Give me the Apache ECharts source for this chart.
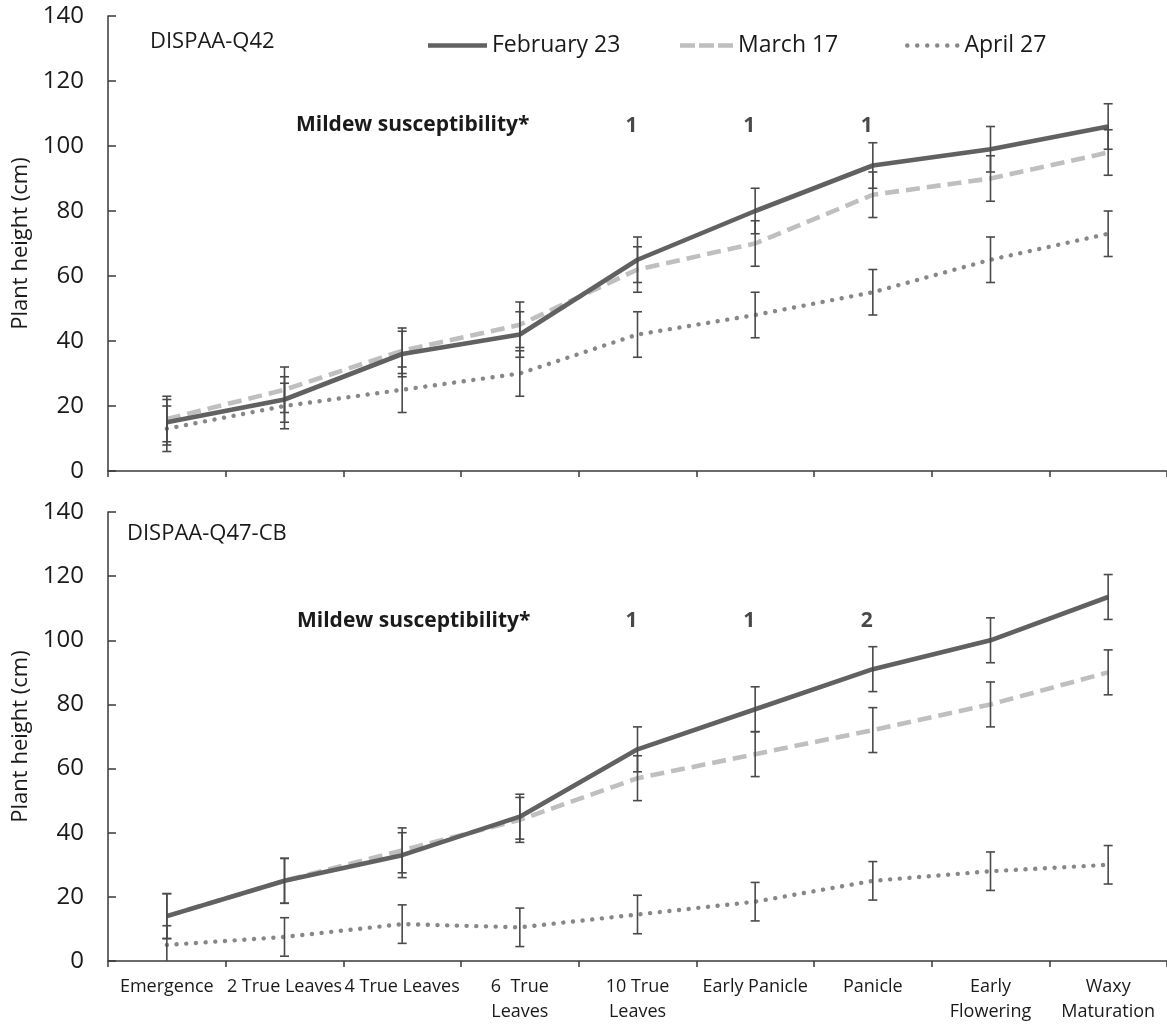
<!DOCTYPE html>
<html>
<head>
<meta charset="utf-8">
<script src="https://cdn.jsdelivr.net/npm/echarts@6/dist/echarts.min.js"></script>
<style>
  html, body { margin: 0; padding: 0; background: #fff; }
  #chart { width: 1167px; height: 1028px; }
</style>
</head>
<body>
<div id="chart"></div>
<script>
// Growth stages shown along the shared x axis
const stages = ['Emergence', '2 True Leaves', '4 True Leaves', '6  True\nLeaves', '10 True\nLeaves',
  'Early Panicle', 'Panicle', 'Early\nFlowering', 'Waxy\nMaturation'];
const yTicks = [0, 20, 40, 60, 80, 100, 120, 140];
const sowingDates = ['February 23', 'March 17', 'April 27'];

// DISPAA-Q42: mean plant height (cm) and error (cm) per sowing date
const q42Feb = [15, 22, 36, 42, 65, 80, 94, 99, 106];
const q42Mar = [16, 25, 37, 45, 62, 70, 85, 90, 98];
const q42Apr = [13, 20, 25, 30, 42, 48, 55, 65, 73];
const q42FebErr = [7, 7, 7, 7, 7, 7, 7, 7, 7];
const q42MarErr = [7, 7, 7, 7, 7, 7, 7, 7, 7];
const q42AprErr = [7, 7, 7, 7, 7, 7, 7, 7, 7];

// DISPAA-Q47-CB
const q47Feb = [14, 25, 33, 45, 66, 78.5, 91, 100, 113.5];
const q47Mar = [14, 25, 34.5, 44, 57, 64.5, 72, 80, 90];
const q47Apr = [5, 7.5, 11.5, 10.5, 14.5, 18.5, 25, 28, 30];
const q47FebErr = [7, 7, 7, 7, 7, 7, 7, 7, 7];
const q47MarErr = [7, 7, 7, 7, 7, 7, 7, 7, 7];
const q47AprErr = [6, 6, 6, 6, 6, 6, 6, 6, 6];

// Mildew susceptibility scores
const mildewStages = ['10 True\nLeaves', 'Early Panicle', 'Panicle'];
const mildewQ42 = ['1', '1', '1'];
const mildewQ47 = ['1', '1', '2'];
const mildewRow = 106;

const FONT = '"Open Sans", "Noto Sans", sans-serif';
const TEXT = '#1a1a1a';
const AXIS = '#3a3a3a';

const lineStyles = [
  { color: '#616161', width: 4.6, type: 'solid' },
  { color: '#bfbfbf', width: 4.6, type: [14, 7] },
  { color: '#878787', width: 4.4, type: [0.1, 9.6], cap: 'round' }
];

// Legend glyphs: solid bar, three dashes, six dots
function dotsPath() {
  let p = 'path://';
  for (let i = 0; i < 6; i++) {
    p += 'M' + (i * 10) + ',2.25 a2.25,2.25 0 1,0 4.5,0 a2.25,2.25 0 1,0 -4.5,0 z ';
  }
  return p;
}
const legendIcons = [
  'path://M0,0h59v4.6h-59z',
  'path://M0,0h15v4.6h-15z M19,0h15v4.6h-15z M38,0h15v4.6h-15z',
  dotsPath()
];
const legendIconWidths = [59, 53, 54.5];

function lineSeries(name, data, gridIdx, styleIdx) {
  return {
    name: name, type: 'line', data: data,
    xAxisIndex: gridIdx, yAxisIndex: gridIdx,
    showSymbol: false, symbol: 'none', smooth: false,
    lineStyle: Object.assign({}, lineStyles[styleIdx]),
    itemStyle: { color: lineStyles[styleIdx].color },
    z: 2 + (2 - styleIdx), silent: true
  };
}

function errorSeries(means, errs, gridIdx) {
  return {
    type: 'custom', xAxisIndex: gridIdx, yAxisIndex: gridIdx, z: 10, silent: true,
    clip: true,
    data: means.map((m, i) => [i, m - errs[i], m + errs[i]]),
    encode: { x: 0, y: [1, 2] },
    renderItem: function (params, api) {
      const idx = api.value(0);
      const lo = api.coord([idx, api.value(1)]);
      const hi = api.coord([idx, api.value(2)]);
      const hw = 4.5;
      const st = { stroke: '#4a4a4a', lineWidth: 1.6 };
      return {
        type: 'group',
        children: [
          { type: 'line', shape: { x1: lo[0], y1: lo[1], x2: hi[0], y2: hi[1] }, style: st },
          { type: 'line', shape: { x1: hi[0] - hw, y1: hi[1], x2: hi[0] + hw, y2: hi[1] }, style: st },
          { type: 'line', shape: { x1: lo[0] - hw, y1: lo[1], x2: lo[0] + hw, y2: lo[1] }, style: st }
        ]
      };
    }
  };
}

function mildewSeries(scores, gridIdx) {
  return {
    type: 'scatter', xAxisIndex: gridIdx, yAxisIndex: gridIdx, silent: true,
    symbolSize: 1, itemStyle: { color: 'rgba(0,0,0,0)' },
    data: mildewStages.map((s, i) => ({ value: [s, mildewRow], label: { formatter: scores[i] } })),
    label: {
      show: true, position: 'inside', offset: [-6, 0],
      fontFamily: FONT, fontSize: 21, fontWeight: 'bold', color: TEXT
    }
  };
}

function xAxisFor(gridIdx, showLabels) {
  return {
    type: 'category', gridIndex: gridIdx, data: stages, boundaryGap: true,
    axisLine: { lineStyle: { color: AXIS, width: 1.5 } },
    axisTick: { show: true, inside: false, length: 6, lineStyle: { color: AXIS, width: 1.5 } },
    axisLabel: {
      show: showLabels, interval: 0, hideOverlap: false, margin: 13,
      fontFamily: FONT, fontSize: 18, lineHeight: 25, color: TEXT, verticalAlign: 'top'
    },
    splitLine: { show: false }
  };
}

function yAxisFor(gridIdx) {
  return {
    type: 'value', gridIndex: gridIdx, min: yTicks[0], max: yTicks[yTicks.length - 1], interval: 20,
    name: 'Plant height (cm)', nameLocation: 'middle', nameGap: 70, nameRotate: 90,
    nameTextStyle: { fontFamily: FONT, fontSize: 22, color: TEXT },
    axisLine: { show: true, lineStyle: { color: AXIS, width: 1.5 } },
    axisTick: { show: true, inside: true, length: 8, lineStyle: { color: AXIS, width: 1.5 } },
    axisLabel: { margin: 24, fontFamily: FONT, fontSize: 24, color: TEXT },
    splitLine: { show: false }
  };
}

function legendFor(idx, left) {
  return {
    left: left, top: 34, padding: 0,
    data: [{ name: sowingDates[idx], icon: legendIcons[idx] }],
    itemWidth: legendIconWidths[idx], itemHeight: 4.6,
    textStyle: { fontFamily: FONT, fontSize: 23, color: TEXT },
    selectedMode: false
  };
}

const option = {
  backgroundColor: '#ffffff',
  animation: false,
  textStyle: { fontFamily: FONT },
  legend: [legendFor(0, 428), legendFor(1, 680), legendFor(2, 905)],
  grid: [
    { left: 108, right: 0, top: 16, height: 455 },
    { left: 108, right: 0, top: 512, height: 449 }
  ],
  xAxis: [xAxisFor(0, false), xAxisFor(1, true)],
  yAxis: [yAxisFor(0), yAxisFor(1)],
  graphic: [
    { type: 'text', left: 150, top: 31, style: { text: 'DISPAA-Q42', font: '22px ' + FONT, fill: TEXT } },
    { type: 'text', left: 127, top: 523, style: { text: 'DISPAA-Q47-CB', font: '22px ' + FONT, fill: TEXT } },
    { type: 'text', left: 296, top: 115, style: { text: 'Mildew susceptibility*', font: 'bold 21px ' + FONT, fill: TEXT } },
    { type: 'text', left: 297, top: 611, style: { text: 'Mildew susceptibility*', font: 'bold 21px ' + FONT, fill: TEXT } }
  ],
  series: [
    lineSeries(sowingDates[0], q42Feb, 0, 0),
    lineSeries(sowingDates[1], q42Mar, 0, 1),
    lineSeries(sowingDates[2], q42Apr, 0, 2),
    errorSeries(q42Feb, q42FebErr, 0),
    errorSeries(q42Mar, q42MarErr, 0),
    errorSeries(q42Apr, q42AprErr, 0),
    mildewSeries(mildewQ42, 0),

    lineSeries(sowingDates[0], q47Feb, 1, 0),
    lineSeries(sowingDates[1], q47Mar, 1, 1),
    lineSeries(sowingDates[2], q47Apr, 1, 2),
    errorSeries(q47Feb, q47FebErr, 1),
    errorSeries(q47Mar, q47MarErr, 1),
    errorSeries(q47Apr, q47AprErr, 1),
    mildewSeries(mildewQ47, 1)
  ]
};

const chart = echarts.init(document.getElementById('chart'), null, { renderer: 'canvas' });
chart.setOption(option);
</script>
</body>
</html>
